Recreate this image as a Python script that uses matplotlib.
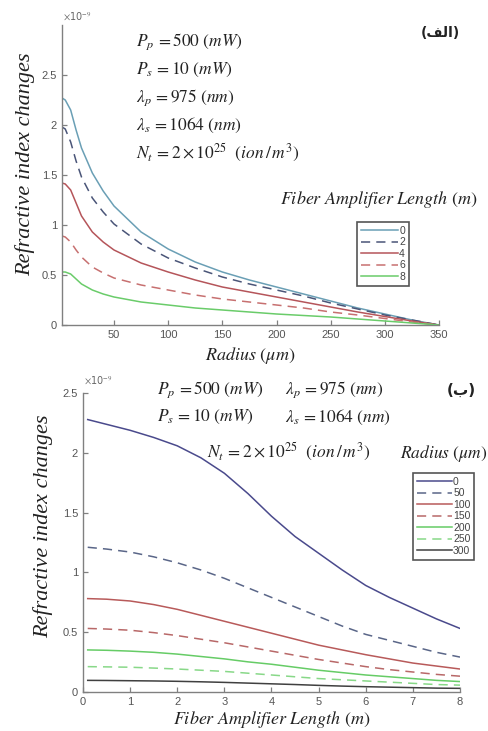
import matplotlib
matplotlib.use("Agg")
import matplotlib.pyplot as plt

plt.rcParams['mathtext.fontset'] = 'stix'
plt.rcParams['font.family'] = ['Liberation Sans', 'DejaVu Sans']

# ---------------- data: panel (a) ----------------
radius = [2, 5, 10, 15, 20, 30, 40, 50, 75, 100, 125, 150, 175, 200, 225, 250, 275, 300, 325, 350]
len_labels = ['0', '2', '4', '6', '8']
dn_L0 = [2.27, 2.25, 2.15, 1.95, 1.77, 1.52, 1.34, 1.19, 0.93, 0.76, 0.63, 0.53, 0.45, 0.38, 0.31, 0.24, 0.17, 0.11, 0.05, 0.0]
dn_L2 = [1.98, 1.96, 1.83, 1.64, 1.48, 1.27, 1.13, 1.01, 0.81, 0.67, 0.57, 0.48, 0.41, 0.35, 0.29, 0.22, 0.16, 0.10, 0.05, 0.0]
dn_L4 = [1.42, 1.41, 1.35, 1.22, 1.09, 0.93, 0.83, 0.75, 0.62, 0.53, 0.45, 0.38, 0.33, 0.28, 0.23, 0.18, 0.13, 0.085, 0.04, 0.0]
dn_L6 = [0.89, 0.88, 0.83, 0.75, 0.68, 0.58, 0.52, 0.47, 0.40, 0.35, 0.30, 0.26, 0.23, 0.20, 0.17, 0.13, 0.10, 0.065, 0.03, 0.0]
dn_L8 = [0.53, 0.53, 0.51, 0.46, 0.41, 0.35, 0.31, 0.28, 0.23, 0.20, 0.17, 0.15, 0.13, 0.11, 0.095, 0.08, 0.06, 0.04, 0.02, 0.0]

# ---------------- data: panel (b) ----------------
length = [0.1, 0.5, 1, 1.5, 2, 2.5, 3, 3.5, 4, 4.5, 5, 5.5, 6, 6.5, 7, 7.5, 8]
rad_labels = ['0', '50', '100', '150', '200', '250', '300']
dn_R0 = [2.28, 2.24, 2.19, 2.13, 2.06, 1.96, 1.83, 1.66, 1.47, 1.30, 1.16, 1.02, 0.89, 0.79, 0.70, 0.61, 0.53]
dn_R50 = [1.21, 1.195, 1.17, 1.13, 1.08, 1.02, 0.95, 0.87, 0.79, 0.71, 0.63, 0.55, 0.48, 0.43, 0.38, 0.33, 0.29]
dn_R100 = [0.78, 0.775, 0.76, 0.73, 0.69, 0.64, 0.59, 0.54, 0.49, 0.44, 0.39, 0.35, 0.31, 0.275, 0.24, 0.215, 0.19]
dn_R150 = [0.53, 0.525, 0.515, 0.495, 0.47, 0.44, 0.41, 0.375, 0.34, 0.305, 0.27, 0.24, 0.21, 0.185, 0.165, 0.145, 0.13]
dn_R200 = [0.35, 0.347, 0.34, 0.33, 0.315, 0.295, 0.275, 0.25, 0.23, 0.205, 0.18, 0.16, 0.14, 0.125, 0.11, 0.095, 0.085]
dn_R250 = [0.21, 0.208, 0.205, 0.198, 0.19, 0.18, 0.17, 0.155, 0.14, 0.125, 0.11, 0.10, 0.09, 0.08, 0.07, 0.06, 0.055]
dn_R300 = [0.095, 0.094, 0.092, 0.09, 0.087, 0.083, 0.078, 0.072, 0.066, 0.06, 0.053, 0.047, 0.042, 0.038, 0.034, 0.03, 0.028]

W, H = 489, 731
fig = plt.figure(figsize=(W / 100, H / 100), dpi=100)


def fx(x):
    return x / W


def fy(y):
    return 1 - y / H


DASH = (0, (6, 4))
tick_col = '#555555'
spine_col = '#808080'


def style_axes(ax):
    for s in ['top', 'right']:
        ax.spines[s].set_visible(False)
    for s in ['left', 'bottom']:
        ax.spines[s].set_color(spine_col)
        ax.spines[s].set_linewidth(1.0)
    ax.tick_params(direction='in', length=3.5, width=0.9, colors=spine_col,
                   labelcolor=tick_col, labelsize=8)


def fmt(v):
    return f"{v:g}"


# ---------------- panel (a) ----------------
ax1 = fig.add_axes([fx(62), fy(325), fx(439) - fx(62), fy(25) - fy(325)])
style1 = [('#6a9fb5', '-'), ('#4a5578', DASH), ('#b5555a', '-'), ('#c77070', DASH), ('#6acc6a', '-')]
for vals, lab, (c, ls) in zip([dn_L0, dn_L2, dn_L4, dn_L6, dn_L8], len_labels, style1):
    ax1.plot(radius, vals, color=c, linestyle=ls, linewidth=1.1, label=lab)
ax1.set_xlim(2, 350)
ax1.set_ylim(0, 3.0)
ax1.set_xticks([50, 100, 150, 200, 250, 300, 350])
ax1.set_yticks([0, 0.5, 1, 1.5, 2, 2.5])
ax1.set_yticklabels([fmt(v) for v in [0, 0.5, 1, 1.5, 2, 2.5]])
style_axes(ax1)
ax1.set_xlabel(r'$Radius\ (\mu m)$', fontsize=13, color='#222222', labelpad=4)
leg1 = ax1.legend(loc='upper left', bbox_to_anchor=(fx(357), fy(222)),
                  bbox_transform=fig.transFigure, fontsize=7.5, handlelength=3.6,
                  handletextpad=0.1, labelspacing=0.15, borderpad=0.35,
                  fancybox=False, framealpha=1, borderaxespad=0)
leg1.get_frame().set_edgecolor('#555555')
leg1.get_frame().set_linewidth(1.2)
for t in leg1.get_texts():
    t.set_color('#444444')

fig.text(fx(25), fy(164), 'Refractive index changes', rotation=90, fontsize=16,
         family='Liberation Serif', style='italic', color='#222222',
         ha='center', va='center')
fig.text(fx(63), fy(17), r'$\times$10$^{-9}$', fontsize=7, color='#666666',
         ha='left', va='center', family='DejaVu Sans')
params_a = [r'$P_p\,=500\ (mW)$', r'$P_s\,=10\ (mW)$', r'$\lambda_p\,=975\ (nm)$',
            r'$\lambda_s\,=1064\ (nm)$', r'$N_t\,=2\times10^{25}\ \ (ion\,/\,m^3)$']
for i, s in enumerate(params_a):
    fig.text(fx(136), fy(42 + 27.8 * i), s, fontsize=12.5, color='#222222', ha='left', va='center')
fig.text(fx(440), fy(33), '(\uFED2\uFEDF\uFE8D)', fontsize=10, fontweight='bold',
         family='DejaVu Sans', ha='center', va='center', color='#222222')
fig.text(fx(379), fy(200), r'$Fiber\ Amplifier\ Length\ (m)$', fontsize=13,
         color='#222222', ha='center', va='center')

# ---------------- panel (b) ----------------
ax2 = fig.add_axes([fx(83), fy(691.7), fx(460) - fx(83), fy(393.3) - fy(691.7)])
style2 = [('#4a4a8c', '-'), ('#5a6688', DASH), ('#b85a5a', '-'), ('#b86868', DASH),
          ('#66cc66', '-'), ('#88d888', DASH), ('#404040', '-')]
for vals, lab, (c, ls) in zip([dn_R0, dn_R50, dn_R100, dn_R150, dn_R200, dn_R250, dn_R300],
                              rad_labels, style2):
    ax2.plot(length, vals, color=c, linestyle=ls, linewidth=1.1, label=lab)
ax2.set_xlim(0, 8)
ax2.set_ylim(0, 2.5)
ax2.set_xticks(range(0, 9))
ax2.set_yticks([0, 0.5, 1, 1.5, 2, 2.5])
ax2.set_yticklabels([fmt(v) for v in [0, 0.5, 1, 1.5, 2, 2.5]])
style_axes(ax2)
ax2.set_xlabel(r'$Fiber\ Amplifier\ Length\ (m)$', fontsize=13, color='#222222', labelpad=2)
leg2 = ax2.legend(loc='upper left', bbox_to_anchor=(fx(413), fy(473)),
                  bbox_transform=fig.transFigure, fontsize=7.5, handlelength=3.4,
                  handletextpad=0.1, labelspacing=0.15, borderpad=0.35,
                  fancybox=False, framealpha=1, borderaxespad=0)
leg2.get_frame().set_edgecolor('#555555')
leg2.get_frame().set_linewidth(1.2)
for t in leg2.get_texts():
    t.set_color('#444444')

fig.text(fx(43), fy(526), 'Refractive index changes', rotation=90, fontsize=16,
         family='Liberation Serif', style='italic', color='#222222',
         ha='center', va='center')
fig.text(fx(84), fy(381), r'$\times$10$^{-9}$', fontsize=7, color='#666666',
         ha='left', va='center', family='DejaVu Sans')
fig.text(fx(157), fy(390), r'$P_p\,=500\ (mW)$', fontsize=12.5, color='#222222', ha='left', va='center')
fig.text(fx(157), fy(417), r'$P_s\,=10\ (mW)$', fontsize=12.5, color='#222222', ha='left', va='center')
fig.text(fx(285), fy(390), r'$\lambda_p\,=975\ (nm)$', fontsize=12.5, color='#222222', ha='left', va='center')
fig.text(fx(285), fy(417), r'$\lambda_s\,=1064\ (nm)$', fontsize=12.5, color='#222222', ha='left', va='center')
fig.text(fx(207), fy(452), r'$N_t\,=2\times10^{25}\ \ (ion\,/\,m^3)$', fontsize=12.5,
         color='#222222', ha='left', va='center')
fig.text(fx(461), fy(390), '(\u0628)', fontsize=11, fontweight='bold',
         family='DejaVu Sans', ha='center', va='center', color='#222222')
fig.text(fx(487), fy(454), r'$Radius\ (\mu m)$', fontsize=12.5, color='#222222',
         ha='right', va='center')

fig.savefig('out.png', dpi=100)
